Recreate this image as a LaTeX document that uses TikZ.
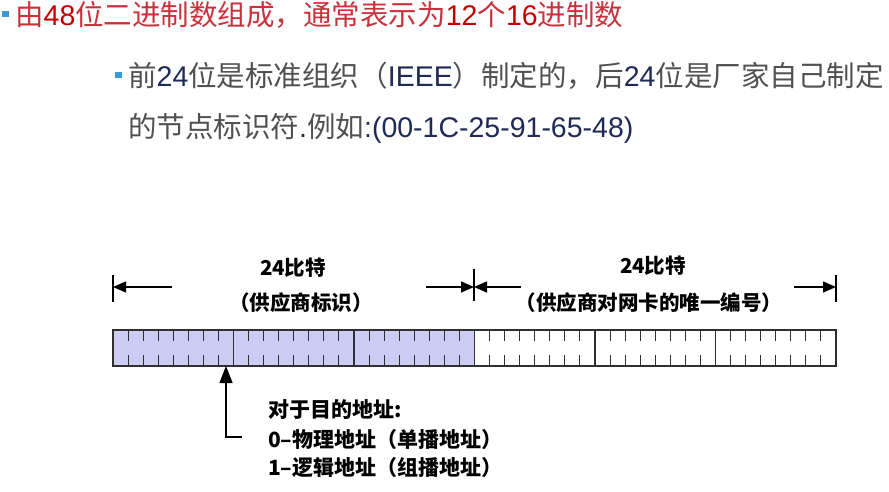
\documentclass[tikz,border=0pt]{standalone}
\usepackage{fontspec}
\setmainfont{Noto Sans CJK SC}
\newfontfamily\latinfont{Liberation Sans}
\usetikzlibrary{arrows.meta}

\definecolor{titlered}{HTML}{C8323C}
\definecolor{numred}{HTML}{C00000}
\definecolor{bodygray}{HTML}{505050}
\definecolor{numnavy}{HTML}{1F2A55}
\definecolor{bulletblue}{HTML}{3A9AD9}
\definecolor{vendorfill}{HTML}{CCCCF5}
\definecolor{framegray}{HTML}{303030}

\newcommand{\rednum}[1]{{\latinfont\color{numred}#1}}
\newcommand{\navynum}[1]{{\latinfont\color{numnavy}#1}}

\tikzset{
  bullet/.style={fill=bulletblue, minimum size=6.5pt, inner sep=0pt},
  headline/.style={anchor=west, inner sep=0pt, font=\fontsize{28.5}{34}\selectfont},
  fieldlabel/.style={inner sep=0pt, font=\bfseries\fontsize{20.5}{24}\selectfont},
  notelabel/.style={anchor=west, inner sep=0pt, font=\bfseries\fontsize{21}{25}\selectfont},
  dimarrow/.style={-{Triangle[length=13pt,width=11pt]}, line width=1.4pt},
  tickline/.style={line width=1.2pt},
  igarrow/.style={-{Triangle[length=17pt,width=13pt]}, line width=1.4pt},
}

\begin{document}
\begin{tikzpicture}[x=1pt,y=-1pt]
\useasboundingbox (0,0) rectangle (889,492);

% header text
\node[bullet] (b1) at (5.5,14) {};
\node[headline, text=titlered] (line1) at (15,15)
  {由\rednum{48}位二进制数组成，通常表示为\rednum{12}个\rednum{16}进制数};
\node[bullet] (b2) at (118.5,75) {};
\node[headline, text=bodygray] (line2) at (128,76)
  {前\navynum{24}位是标准组织（\navynum{IEEE}）制定的，后\navynum{24}位是厂家自己制定};
\node[headline, text=bodygray] (line3) at (128,128)
  {的节点标识符\navynum{.}例如\navynum{:(00-1C-25-91-65-48)}};

% the 48 bit field
\fill[vendorfill] (113,330) rectangle (474.5,366);
\foreach \i in {1,...,47}
{
  \draw[framegray, line width=1.1pt] (113+\i*15.0625,330) -- ++(0,11);
  \draw[framegray, line width=1.1pt] (113+\i*15.0625,366) -- ++(0,-11);
}
\foreach \b in {1,...,5}
  \draw[framegray, line width=1.1pt] (113+\b*120.5,330) -- ++(0,36);
\draw[framegray, line width=1.2pt] (113,330) rectangle (836,366);

% dimension lines
\coordinate (lefttick) at (113,287);
\coordinate (midtick) at (474,287);
\coordinate (righttick) at (836,287);
\coordinate (l1) at (172,287);
\coordinate (l2) at (426,287);
\coordinate (r1) at (521,287);
\coordinate (r2) at (794,287);
\draw[tickline] (113,275) -- (113,302);
\draw[tickline] (474,269) -- (474,301);
\draw[tickline] (836,275) -- (836,302);
\draw[dimarrow] (l1) -- (lefttick);
\draw[dimarrow] (l2) -- (midtick);
\draw[dimarrow] (r1) -- (midtick);
\draw[dimarrow] (r2) -- (righttick);

\node[fieldlabel] (bits1) at (293,268) {24比特};
\node[fieldlabel] (vendor) at (301,303) {（供应商标识）};
\node[fieldlabel] (bits2) at (653,266) {24比特};
\node[fieldlabel] (serial) at (649,303) {（供应商对网卡的唯一编号）};

% I/G bit
\coordinate (igbit) at (226,366);
\coordinate (knee) at (226,437);
\coordinate (foot) at (242,437);
\draw[igarrow] (foot) -- (knee) -- (igbit);

\node[notelabel] (note0) at (268,410) {对于目的地址:};
\node[notelabel] (note1) at (268,440) {0–物理地址（单播地址）};
\node[notelabel] (note2) at (268,468) {1–逻辑地址（组播地址）};
\end{tikzpicture}
\end{document}
